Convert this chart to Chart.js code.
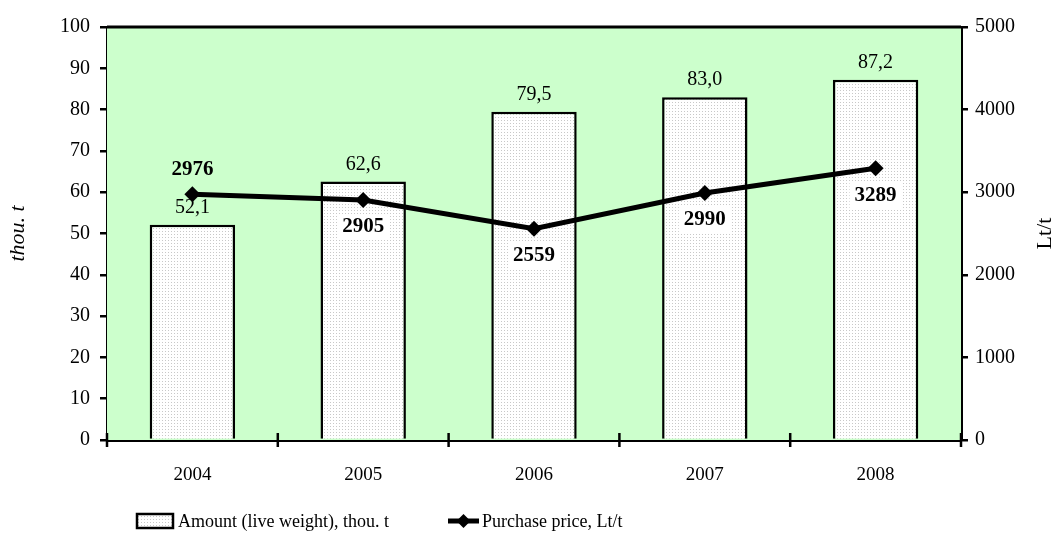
<!DOCTYPE html>
<html>
<head>
<meta charset="utf-8">
<script src="https://cdn.jsdelivr.net/npm/chart.js@4.4.1/dist/chart.umd.min.js"></script>
<style>
  html, body { margin: 0; padding: 0; background: #ffffff; }
  #wrap { width: 1058px; height: 555px; position: relative; }
</style>
</head>
<body>
<div id="wrap"><canvas id="c" width="1058" height="555"></canvas></div>
<script>
const categories = ['2004', '2005', '2006', '2007', '2008'];
const amountValues = [52.1, 62.6, 79.5, 83.0, 87.2];
const amountLabels = ['52,1', '62,6', '79,5', '83,0', '87,2'];
const priceValues = [2976, 2905, 2559, 2990, 3289];
const amountSeriesName = 'Amount (live weight), thou. t';
const priceSeriesName = 'Purchase price, Lt/t';
const leftTitle = 'thou. t';
const rightTitle = 'Lt/t';

const FONT = '"Liberation Serif", "Times New Roman", serif';

function makePattern() {
  const p = document.createElement('canvas');
  p.width = 3; p.height = 3;
  const g = p.getContext('2d');
  g.fillStyle = '#ffffff';
  g.fillRect(0, 0, 3, 3);
  g.fillStyle = '#c8c8c8';
  g.fillRect(0, 0, 1, 1);
  return g.createPattern(p, 'repeat');
}
const ctx0 = document.getElementById('c').getContext('2d');
const barPattern = makePattern();

const bgPlugin = {
  id: 'bgPlugin',
  beforeDatasetsDraw(chart) {
    const { ctx, chartArea: a } = chart;
    ctx.save();
    ctx.fillStyle = '#ccffcc';
    ctx.fillRect(a.left, a.top, a.right - a.left, a.bottom - a.top);
    ctx.restore();
  },
  afterDatasetsDraw(chart) {
    const { ctx, chartArea: a } = chart;
    ctx.save();
    // top border of plot area
    ctx.strokeStyle = '#000';
    ctx.lineWidth = 3;
    ctx.beginPath();
    ctx.moveTo(a.left, a.top);
    ctx.lineTo(a.right, a.top);
    ctx.stroke();

    // bar value labels
    const barMeta = chart.getDatasetMeta(0);
    ctx.font = '20px ' + FONT;
    ctx.fillStyle = '#000';
    ctx.textAlign = 'center';
    ctx.textBaseline = 'middle';
    barMeta.data.forEach((el, i) => {
      ctx.fillText(amountLabels[i], el.x, el.y - 17);
    });

    // line value labels
    const lineMeta = chart.getDatasetMeta(1);
    ctx.font = 'bold 21px ' + FONT;
    lineMeta.data.forEach((el, i) => {
      const txt = String(priceValues[i]);
      const above = i === 0;
      const y = above ? el.y - 25 : el.y + 27;
      if (!above) {
        const w = ctx.measureText(txt).width;
        ctx.fillStyle = '#ffffff';
        ctx.fillRect(el.x - w / 2 - 5, y - 13, w + 10, 26);
      }
      ctx.fillStyle = '#000';
      ctx.fillText(txt, el.x, y);
    });

    // right axis title (reads bottom-to-top)
    const ry = chart.scales.y1;
    ctx.save();
    ctx.translate(1045, (ry.top + ry.bottom) / 2);
    ctx.rotate(-Math.PI / 2);
    ctx.font = '22px ' + FONT;
    ctx.fillText(rightTitle, 0, 0);
    ctx.restore();

    // x-axis boundary ticks crossing axis
    ctx.strokeStyle = '#000';
    ctx.lineWidth = 2.5;
    for (let i = 0; i <= categories.length; i++) {
      const x = a.left + (a.right - a.left) * i / categories.length;
      ctx.beginPath();
      ctx.moveTo(x, a.bottom - 7);
      ctx.lineTo(x, a.bottom + 7);
      ctx.stroke();
    }

    // legend
    const ly = 521;
    ctx.fillStyle = barPattern;
    ctx.fillRect(137, ly - 7, 36, 14);
    ctx.strokeStyle = '#000';
    ctx.lineWidth = 2.5;
    ctx.strokeRect(137, ly - 7, 36, 14);
    ctx.fillStyle = '#000';
    ctx.font = '18px ' + FONT;
    ctx.textAlign = 'left';
    ctx.textBaseline = 'middle';
    ctx.fillText(amountSeriesName, 178, ly + 1);

    ctx.lineWidth = 5;
    ctx.beginPath();
    ctx.moveTo(448, ly);
    ctx.lineTo(479, ly);
    ctx.stroke();
    ctx.beginPath();
    ctx.moveTo(463.5, ly - 7);
    ctx.lineTo(470.5, ly);
    ctx.lineTo(463.5, ly + 7);
    ctx.lineTo(456.5, ly);
    ctx.closePath();
    ctx.fill();
    ctx.fillText(priceSeriesName, 482, ly + 1);
    ctx.restore();
  }
};

new Chart(ctx0, {
  data: {
    labels: categories,
    datasets: [
      {
        type: 'bar',
        label: amountSeriesName,
        data: amountValues,
        backgroundColor: barPattern,
        borderColor: '#000',
        borderWidth: 2.5,
        borderSkipped: 'bottom',
        barPercentage: 0.5,
        categoryPercentage: 1.0,
        yAxisID: 'y',
        order: 2
      },
      {
        type: 'line',
        label: priceSeriesName,
        data: priceValues,
        borderColor: '#000',
        backgroundColor: '#000',
        borderWidth: 5,
        pointStyle: 'rectRot',
        pointRadius: 8,
        pointHoverRadius: 8,
        pointBorderWidth: 0,
        tension: 0,
        fill: false,
        yAxisID: 'y1',
        order: 1
      }
    ]
  },
  options: {
    responsive: false,
    animation: false,
    events: [],
    layout: { padding: { top: 27, left: 0, right: 0, bottom: 0 } },
    plugins: {
      legend: { display: false },
      tooltip: { enabled: false }
    },
    scales: {
      x: {
        offset: true,
        grid: { display: false },
        border: { display: true, color: '#000', width: 3 },
        ticks: { color: '#000', font: { family: FONT, size: 19 }, padding: 16, maxRotation: 0 },
        afterFit(s) { s.height = 115; }
      },
      y: {
        position: 'left',
        min: 0, max: 100,
        ticks: { stepSize: 10, color: '#000', font: { family: FONT, size: 20 }, padding: 10 },
        grid: { drawOnChartArea: false, drawTicks: true, tickLength: 7, color: '#000', lineWidth: 2.5 },
        border: { display: true, color: '#000', width: 3 },
        title: { display: true, text: leftTitle, color: '#000', font: { family: FONT, size: 22, style: 'italic' }, padding: { top: 5, bottom: 0 } },
        afterFit(s) { s.width = 107; }
      },
      y1: {
        position: 'right',
        min: 0, max: 5000,
        ticks: { stepSize: 1000, color: '#000', font: { family: FONT, size: 20 }, padding: 7,
                 callback: (v) => String(v) },
        grid: { drawOnChartArea: false, drawTicks: true, tickLength: 7, color: '#000', lineWidth: 2.5 },
        border: { display: true, color: '#000', width: 3 },
        afterFit(s) { s.width = 97; }
      }
    }
  },
  plugins: [bgPlugin]
});
</script>
</body>
</html>
